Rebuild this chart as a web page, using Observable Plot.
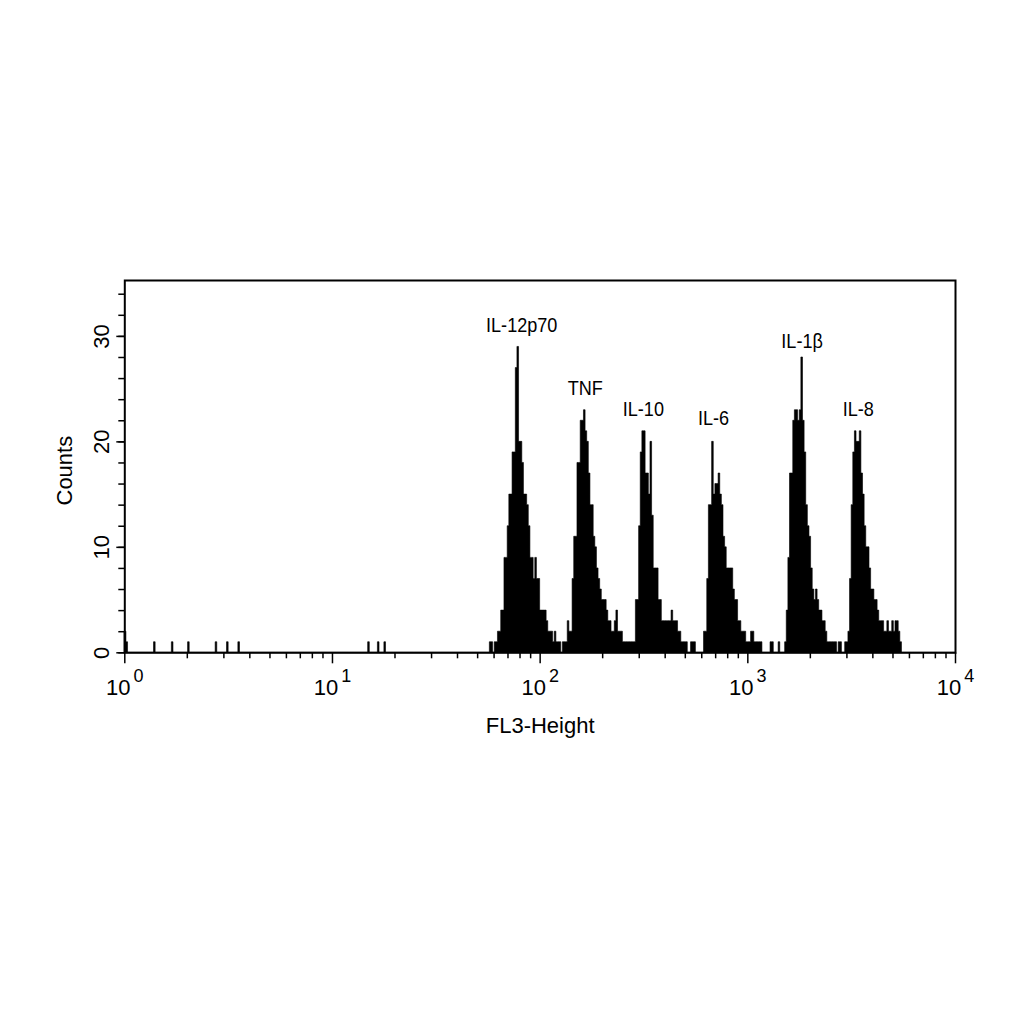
<!DOCTYPE html>
<html><head><meta charset="utf-8">
<script src="https://cdn.jsdelivr.net/npm/d3@7"></script>
<script src="https://cdn.jsdelivr.net/npm/@observablehq/plot@0.6"></script>
<style>html,body{margin:0;padding:0;background:#fff;} #chart svg{display:block}</style>
</head><body><div id="chart"></div>
<script>
// 512 channels over 4 decades (FL3-Height), 128 channels per decade
const channelsPerDecade = 128;
const channelCount = 512;

// sparse low-channel events
const debrisChannels = [0, 1, 18, 29, 39, 56, 63, 70, 150, 156, 160];
const debrisCounts   = [2, 1, 1, 1, 1, 1, 1, 1, 1, 1, 1];

// bead populations: start channel + consecutive counts
const il12p70Start = 225;
const il12p70Counts = [1,1,0,1,1,2,2,4,4,9,9,12,15,15,19,19,27,29,20,20,18,15,15,14,12,9,9,7,9,7,7,4,4,4,4,3,2,2,2,1,2,1,1,1,0,1];
const tnfStart = 271;
const tnfCounts = [1,1,3,2,2,7,11,11,18,18,22,22,23,21,20,17,14,14,11,10,8,7,6,5,5,5,4,3,3,2,2,3,4,2,2,2,1,1,1,1,1,1,1,1];
const il10Start = 315;
const il10Counts = [5,5,12,19,21,21,17,17,15,20,13,8,8,8,5,5,3,3,3,3,3,3,4,3,3,3,2,2,1,1,1,1,0,0,1,1,1,0,0,0,0,0];
const il6Start = 357;
const il6Counts = [2,2,7,14,14,20,15,16,16,17,15,14,11,10,8,8,8,8,6,5,5,3,3,2,2,2,1,1,1,2,2,1,1,1,1,1,0,0,0,0,0,1,1,0,0,0,1,0,0,0];
const il1bStart = 407;
const il1bCounts = [1,4,9,17,17,22,23,23,22,23,28,22,19,14,12,11,8,6,5,6,5,4,4,3,3,2,1,1,1,1,1,1,0,1,1,0,0,1];
const il8Start = 445;
const il8Counts = [1,2,7,14,19,21,20,20,21,17,15,12,10,10,8,6,6,5,5,4,3,3,3,2,2,3,2,2,3,2,3,3,2,1];

// peak labels
const peakLabels = ["IL-12p70", "TNF", "IL-10", "IL-6", "IL-1\u03b2", "IL-8"];
const labelX = [81.5, 165, 314, 683, 1825, 3400];
const labelY = [31.1, 25.1, 23.1, 22.2, 29.5, 23.1];

// axes
const xMajorTicks = [1, 10, 100, 1000, 10000];
const xExponents = ["0", "1", "2", "3", "4"];
const xMinorTicks = [2,3,4,5,6,7,8,9,20,30,40,50,60,70,80,90,200,300,400,500,600,700,800,900,2000,3000,4000,5000,6000,7000,8000,9000];
const yMajorTicks = [0, 10, 20, 30];
const yMinorTicks = [0,2,4,6,8,10,12,14,16,18,20,22,24,26,28,30,32,34];

// full channel histogram
const counts = new Array(channelCount).fill(0);
debrisChannels.forEach((ch, i) => { counts[ch] = debrisCounts[i]; });
[[il12p70Start, il12p70Counts], [tnfStart, tnfCounts], [il10Start, il10Counts],
 [il6Start, il6Counts], [il1bStart, il1bCounts], [il8Start, il8Counts]]
  .forEach(([start, arr]) => arr.forEach((c, i) => { counts[start + i] = c; }));
const hist = counts.map((c, ch) => ({x: Math.pow(10, ch / channelsPerDecade), count: c}));
hist.push({x: Math.pow(10, channelCount / channelsPerDecade), count: 0});

const plot = Plot.plot({
  width: 1024, height: 1024,
  marginLeft: 124.3, marginRight: 69, marginTop: 280, marginBottom: 371.7,
  style: {fontFamily: "'Liberation Sans', Arial, sans-serif", fontSize: "22px", background: "#fff", color: "#000"},
  x: {type: "log", domain: [1, 10000]},
  y: {domain: [0, 35.3]},
  marks: [
    Plot.areaY(hist, {x: "x", y: "count", curve: "step-after", fill: "#000", stroke: "#000", strokeWidth: 0.6}),
    Plot.frame({stroke: "#000", strokeWidth: 2}),
    Plot.axisX(xMinorTicks, {tickSize: 6, tickFormat: () => "", label: null, strokeWidth: 1.5}),
    Plot.axisX(xMajorTicks, {tickSize: 11, tickPadding: 16, label: null, strokeWidth: 1.5,
      tickFormat: d => "10^" + xExponents[xMajorTicks.indexOf(d)]}),
    Plot.axisY(yMinorTicks, {tickSize: 6, tickFormat: () => "", label: null, strokeWidth: 1.5}),
    Plot.axisY(yMajorTicks, {tickSize: 8, tickFormat: () => "", label: null, strokeWidth: 1.5}),
    Plot.text(yMajorTicks, {y: d => d, text: d => String(d), frameAnchor: "left", textAnchor: "middle", dx: -23, rotate: -90, fontSize: 22}),
    Plot.text(["Counts"], {text: d => d, frameAnchor: "left", textAnchor: "middle", dx: -59.6, dy: 4, rotate: -90, fontSize: 22}),
    Plot.text(["FL3-Height"], {text: d => d, frameAnchor: "bottom", dy: 79.7, fontSize: 22}),
    Plot.text(peakLabels, {x: (d, i) => labelX[i], y: (d, i) => labelY[i], text: d => d, fontSize: 21, className: "peak-label"})
  ]
});
document.getElementById("chart").append(plot);

// superscript exponents on x tick labels
const NS = "http://www.w3.org/2000/svg";
plot.querySelectorAll("text").forEach(t => {
  const m = /^10\^(\d)$/.exec(t.textContent);
  if (m) {
    t.textContent = "10";
    const ts = document.createElementNS(NS, "tspan");
    ts.setAttribute("dy", "-13");
    ts.setAttribute("dx", "3");
    ts.setAttribute("font-size", "18");
    ts.textContent = m[1];
    t.appendChild(ts);
  }
});
// condensed peak labels
plot.querySelectorAll("g.peak-label text").forEach(t => {
  const len = t.getComputedTextLength();
  t.setAttribute("textLength", (len * 0.86).toFixed(1));
  t.setAttribute("lengthAdjust", "spacingAndGlyphs");
});
</script>
</body></html>
